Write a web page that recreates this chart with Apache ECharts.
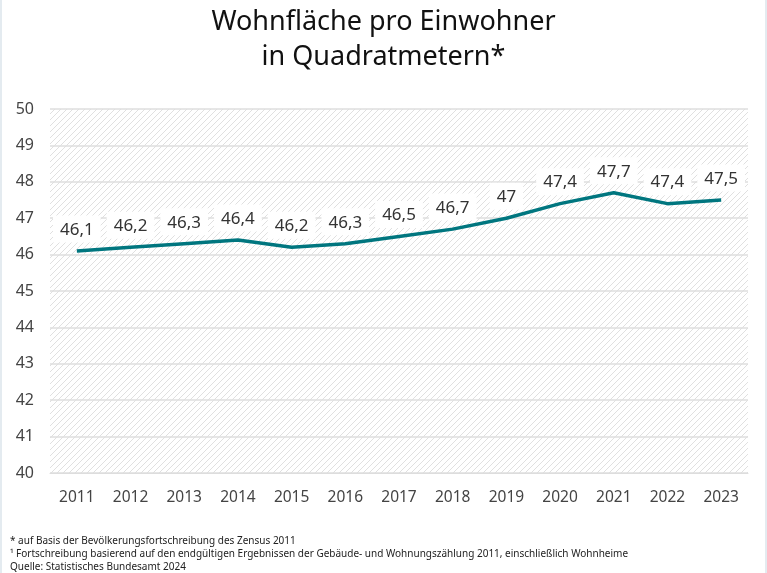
<!DOCTYPE html>
<html>
<head>
    <meta charset="utf-8">
    <title>Wohnfläche pro Einwohner</title>
    <script type="text/javascript" src="https://cdn.jsdelivr.net/npm/echarts@6/dist/echarts.min.js"></script>
    <style>
        html, body { margin:0; padding:0; background:#fff; }
        #main { width:767px; height:573px; box-sizing:border-box; border-left:2px solid #e4ebf0; border-right:2px solid #e4ebf0; }
    </style>
</head>
<body>
    <div id="main"></div>
    <script type="text/javascript">
        var years = ['2011','2012','2013','2014','2015','2016','2017','2018','2019','2020','2021','2022','2023'];
        var flaeche = [46.1, 46.2, 46.3, 46.4, 46.2, 46.3, 46.5, 46.7, 47.0, 47.4, 47.7, 47.4, 47.5];
        var footnotes = [
            '* auf Basis der Bevölkerungsfortschreibung des Zensus 2011',
            '¹ Fortschreibung basierend auf den endgültigen Ergebnissen der Gebäude- und Wohnungszählung 2011, einschließlich Wohnheime',
            'Quelle: Statistisches Bundesamt 2024'
        ];

        // Schraffur fuer den Hintergrund
        var hatch = document.createElement('canvas');
        hatch.width = 6; hatch.height = 6;
        var ctx = hatch.getContext('2d');
        ctx.fillStyle = '#ffffff';
        ctx.fillRect(0, 0, 6, 6);
        ctx.strokeStyle = '#e0e0e0';
        ctx.lineWidth = 1;
        ctx.beginPath();
        ctx.moveTo(0, 6); ctx.lineTo(6, 0);
        ctx.moveTo(-3, 3); ctx.lineTo(3, -3);
        ctx.moveTo(3, 9); ctx.lineTo(9, 3);
        ctx.stroke();

        var font = '"Noto Sans", sans-serif';
        var myChart = echarts.init(document.getElementById('main'));

        var option = {
            animation: false,
            title: {
                text: 'Wohnfläche pro Einwohner\nin Quadratmetern*',
                left: 'center',
                top: 0,
                textStyle: { fontFamily: font, fontSize: 27, fontWeight: 'normal', color: '#111', lineHeight: 35 }
            },
            grid: { left: 48, right: 17, top: 109, bottom: 100 },
            xAxis: {
                type: 'category',
                data: years,
                axisLine: { show: true, lineStyle: { color: '#ddd' } },
                axisTick: { show: false },
                axisLabel: { fontFamily: font, fontSize: 15.5, color: '#444', margin: 17 }
            },
            yAxis: {
                type: 'value',
                min: 40, max: 50, interval: 1,
                axisLabel: { fontFamily: font, fontSize: 16, color: '#444', margin: 16 },
                splitLine: { lineStyle: { color: '#dedede', width: 1.5 } },
                splitArea: { show: true, areaStyle: { color: [{ image: hatch, repeat: 'repeat' }] } }
            },
            series: [{
                type: 'line',
                data: flaeche,
                symbol: 'circle',
                symbolSize: 1,
                showSymbol: true,
                itemStyle: { color: 'rgba(0,0,0,0)' },
                lineStyle: { color: '#00767f', width: 3.5 },
                labelLayout: { hideOverlap: false },
                label: {
                    show: true,
                    position: 'top',
                    distance: 8,
                    fontFamily: font,
                    fontSize: 17,
                    color: '#333',
                    backgroundColor: '#fff',
                    padding: [6, 7, 4, 7],
                    formatter: function (p) { return String(p.value).replace('.', ','); }
                }
            }],
            graphic: footnotes.map(function (t, i) {
                return {
                    type: 'text', left: 8, top: 536 + i * 13,
                    style: { text: t, font: '10px "Noto Sans", sans-serif', fill: '#222' }
                };
            })
        };

        myChart.setOption(option);
    </script>
</body>
</html>
